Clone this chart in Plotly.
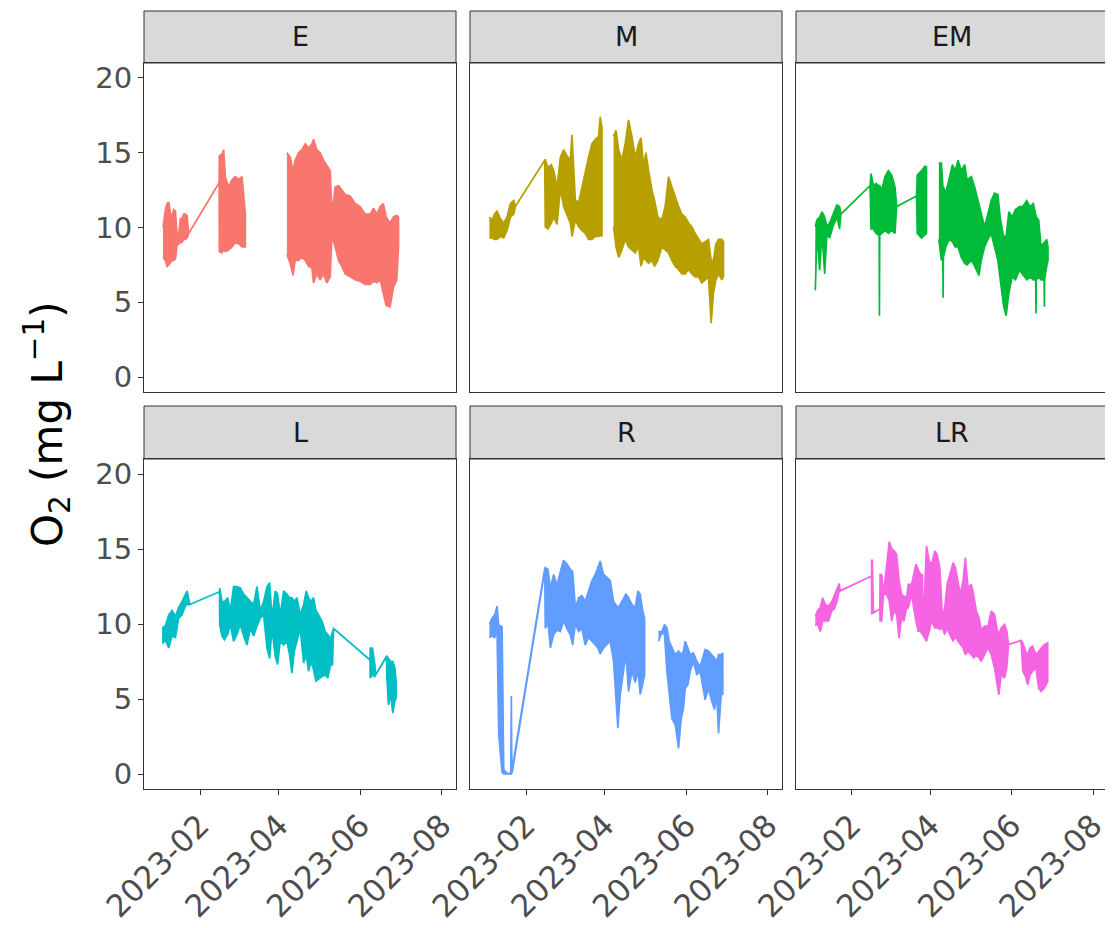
import datetime as dt
import plotly.graph_objects as go

# ---------------- data (days since 2023-01-01; None = break in record) ----------------
sites = ["E", "M", "EM", "L", "R", "LR"]
colors = ["#F8766D", "#B79F00", "#00BA38", "#00BFC4", "#619CFF", "#F564E3"]

E_day = [3.3, 5.1, 6.3, 7.6, 8.8, 10.1, 11.3, 12.6, 13.8, 15.1, 16.3, 17.5, 18.8, 20.0, 21.3, 22.5, 45.3,
         45.44, 47.4, 48.7, 49.9, 52.4, 54.9, 57.4, 59.9, 62.4, 64.9, None,
         96.0, 98.5, 100.5, 102.2, 104.7, 107.2, 109.7, 112.2, 114.7, 115.9, 118.4, 120.9, 123.4, 125.9, 128.4,
         129.6, 132.1, 134.6, 137.1, 139.6, 143.3, 147.1, 150.8, 154.5, 158.3, 160.8, 163.3, 165.8, 168.2, 170.2,
         173.2, 175.7, 178.2, 179.5]
E_hi = [10.0, 11.2, 11.6, 11.7, 11.0, 10.7, 11.2, 11.1, 9.6, 9.5, 10.6, 10.6, 10.9, 10.9, 10.8, 9.6, 13.0,
        14.8, 14.9, 15.2, 13.4, 12.7, 13.2, 13.4, 13.2, 13.4, 10.9, None,
        15.0, 14.7, 13.8, 14.5, 15.0, 15.2, 15.6, 15.3, 15.6, 15.9, 15.2, 15.0, 14.5, 14.1, 13.8,
        10.9, 12.7, 12.8, 12.5, 12.2, 12.1, 11.6, 11.4, 10.9, 10.9, 11.3, 10.9, 11.4, 11.6, 10.7,
        10.3, 10.7, 10.8, 10.7]
E_lo = [8.0, 7.8, 7.4, 7.5, 7.6, 7.8, 7.8, 7.9, 8.8, 8.9, 9.0, 9.0, 9.2, 9.2, 9.3, 9.6, 13.0,
        8.4, 8.3, 8.5, 8.4, 8.5, 8.7, 9.0, 8.9, 8.7, 8.7, None,
        8.2, 7.6, 6.8, 7.8, 7.8, 8.0, 7.8, 7.4, 7.3, 6.3, 6.9, 6.5, 6.9, 6.3, 6.7,
        9.5, 8.7, 7.8, 7.4, 6.9, 6.7, 6.5, 6.4, 6.2, 6.2, 6.4, 6.3, 6.5, 5.6, 4.8,
        4.7, 6.0, 6.5, 8.7]

M_day = [3.6, 5.6, 7.5, 9.3, 11.8, 14.3, 16.8, 19.3, 21.8, 23.0, 45.0,
         45.4, 47.4, 49.9, 51.7, 54.2, 56.7, 59.1, 61.6, 64.1, 65.4, 67.9, 70.4, 72.8, 75.3, 77.8, 80.3, 82.8,
         85.3, 86.5, 87.8, None,
         96.5, 98.3, 100.3, 102.7, 105.2, 107.7, 110.2, 112.7, 115.2, 117.0, 119.0, 120.7, 122.7, 125.2, 127.2,
         129.6, 132.6, 135.1, 137.6, 140.1, 142.6, 145.1, 147.6, 150.1, 152.6, 155.1, 157.5, 160.0, 162.5,
         165.0, 167.5, 169.5, 171.2, 173.0, 175.0, 177.5, 178.7]
M_hi = [10.7, 10.5, 10.9, 11.1, 10.6, 10.3, 10.7, 11.6, 11.8, 11.4, 14.5,
        14.55, 14.0, 14.2, 13.8, 12.7, 14.7, 15.2, 14.8, 14.5, 16.2, 11.8, 11.7, 12.7, 13.8, 14.7, 15.6, 15.9,
        16.1, 17.4, 16.7, None,
        16.1, 16.5, 15.2, 14.5, 15.6, 17.2, 16.1, 14.7, 15.6, 16.0, 14.1, 15.0, 13.8, 12.5, 11.8,
        10.7, 10.5, 11.4, 13.4, 12.7, 12.1, 11.4, 10.9, 10.7, 10.3, 10.05, 9.6, 9.2, 8.9,
        9.05, 9.2, 7.8, 7.8, 8.9, 9.2, 9.2, 9.05]
M_lo = [9.3, 9.3, 9.2, 9.2, 9.4, 9.3, 9.8, 10.7, 10.9, 11.4, 14.5,
        10.05, 9.9, 10.3, 10.7, 10.2, 12.6, 11.4, 10.9, 10.3, 9.4, 10.5, 10.05, 9.8, 9.6, 9.2, 9.2, 9.4,
        9.4, 9.5, 9.4, None,
        10.05, 8.7, 8.0, 8.5, 9.2, 8.7, 8.5, 8.3, 8.7, 7.4, 8.0, 7.8, 7.6, 7.8, 7.4,
        7.8, 8.7, 8.5, 8.3, 7.8, 7.4, 7.2, 6.9, 6.9, 7.2, 6.9, 6.7, 6.7, 6.3,
        6.5, 6.7, 3.6, 5.6, 6.5, 6.9, 6.5, 6.7]

EM_day = [3.6, 4.8, 6.8, 8.6, 10.6, 12.3, 14.3, 16.8, 19.8, 21.8, 22.8, 44.7,
          45.4, 47.2, 49.2, 50.9, 51.5, 51.7, 51.9, 53.4, 55.9, 58.4, 60.9, 63.4, 64.6, 79.6,
          80.1, 83.3, 85.8, 87.0, None,
          96.3, 98.2, 99.3, 99.5, 99.7, 101.5, 104.0, 106.5, 108.5, 110.7, 113.2, 115.7, 117.4, 120.7, 123.2,
          126.4, 128.1, 130.6, 133.1, 135.6, 138.1, 140.6, 142.3, 144.8, 146.8, 148.8, 151.3, 153.8, 156.8,
          159.3, 162.3, 164.7, 167.2, 169.0, 169.2, 169.4, 171.2, 173.0, 175.3, 175.5, 175.7, 177.2, 178.2]
EM_hi = [10.05, 10.5, 10.7, 11.05, 10.7, 10.05, 10.3, 10.9, 11.5, 11.4, 10.9, 12.8,
         13.6, 12.8, 12.95, 12.8, 12.8, 12.8, 12.8, 12.5, 13.4, 13.8, 13.5, 12.7, 11.4, 12.1,
         13.5, 13.8, 14.1, 14.06, None,
         14.3, 14.3, 12.7, 12.7, 12.7, 12.3, 13.2, 14.2, 13.8, 14.5, 13.8, 14.2, 13.2, 13.4, 12.7,
         11.6, 10.9, 10.05, 10.9, 11.8, 12.3, 12.2, 10.7, 9.4, 9.4, 11.05, 10.7, 11.2, 11.4,
         11.4, 11.8, 11.4, 11.6, 10.7, 10.7, 10.7, 10.5, 8.7, 9.0, 9.0, 9.0, 9.2, 8.7]
EM_lo = [5.8, 9.8, 7.15, 9.6, 6.9, 9.6, 9.3, 10.05, 10.7, 9.9, 10.9, 12.8,
         9.9, 9.9, 9.6, 9.5, 9.5, 4.1, 9.5, 9.6, 9.8, 9.6, 9.8, 9.6, 11.4, 12.1,
         9.6, 9.3, 9.5, 9.6, None,
         9.2, 7.8, 8.0, 5.3, 8.0, 8.7, 9.2, 9.05, 8.7, 8.7, 8.0, 7.6, 7.5, 7.8, 7.4,
         6.8, 7.8, 8.7, 9.2, 9.6, 8.7, 7.8, 6.5, 4.8, 4.1, 5.6, 6.7, 6.5, 7.15,
         6.9, 6.5, 6.7, 6.5, 6.5, 4.25, 6.5, 6.7, 6.5, 6.5, 4.7, 6.5, 7.4, 7.8]

L_day = [2.6, 5.1, 7.6, 10.1, 12.6, 15.0, 17.5, 20.0, 21.3, 23.3, 45.6,
         45.7, 47.4, 49.2, 51.7, 53.7, 56.1, 58.6, 61.1, 63.6, 66.1, 68.6, 71.1, 73.6, 76.1, 78.6, 81.1, 83.1,
         84.8, 87.3, 89.0, 91.0, 93.5, 96.0, 98.0, 99.7, 101.5, 103.5, 106.0, 108.5, 110.5, 112.2, 114.0,
         115.9, 117.7, 119.7, 122.2, 124.7, 126.6, 128.4, 130.1, 130.9, 158.2,
         158.3, 160.0, 161.8, 162.3, 170.5, 170.8, 172.0, 173.7, 175.2, 176.7, 177.7]
L_hi = [9.7, 9.9, 10.6, 10.9, 10.5, 11.1, 11.5, 12.0, 12.2, 11.3, 12.15,
        12.4, 11.5, 11.5, 11.75, 10.9, 12.5, 12.5, 12.4, 12.0, 11.75, 11.5, 11.3, 12.5, 10.9, 11.5, 12.5, 12.75,
        10.4, 12.2, 12.0, 10.6, 12.2, 12.0, 11.75, 11.75, 11.5, 11.75, 10.6, 11.3, 12.2, 11.75, 11.5,
        11.75, 10.9, 10.6, 10.2, 9.5, 9.3, 9.0, 9.6, 9.7, 7.6,
        8.4, 8.4, 7.3, 6.6, 7.85, 7.85, 7.7, 7.5, 7.5, 7.1, 6.2]
L_lo = [8.7, 8.9, 8.4, 9.2, 9.1, 10.4, 10.6, 11.2, 11.3, 11.3, 12.15,
        9.97, 9.2, 8.96, 9.3, 9.97, 8.85, 9.3, 9.97, 9.2, 8.6, 9.7, 9.2, 9.86, 10.4, 10.6, 8.4, 7.7,
        9.7, 7.85, 7.3, 8.85, 8.6, 8.85, 7.96, 6.73, 8.18, 8.85, 9.7, 7.4, 7.96, 6.85, 7.5,
        6.96, 6.2, 6.3, 6.5, 6.6, 6.4, 7.2, 7.3, 9.7, 7.6,
        6.4, 6.6, 6.5, 6.6, 7.85, 6.4, 4.6, 5.3, 4.06, 4.84, 5.06]

R_day = [3.6, 5.6, 7.6, 9.3, 10.6, 11.8, 13.1, 14.3, 16.8, 19.6, 20.0, 20.4, 21.0, 45.0,
         45.4, 47.4, 49.2, 51.7, 54.2, 56.7, 59.1, 61.6, 64.1, 65.9, 67.9, 70.4, 72.8, 75.3, 77.8, 80.3, 82.8,
         84.8, 86.5, 89.0, 91.5, 94.0, 96.5, 98.3, 99.7, 101.5, 104.0, 105.7, 107.7, 110.2, 112.7, 114.7,
         116.4, 118.2, 119.7, None,
         130.1, 132.6, 134.6, 136.4, 138.1, 140.1, 142.6, 145.1, 147.1, 148.8, 150.1, 152.1, 153.8, 156.3,
         158.8, 161.3, 165.0, 167.5, 170.0, 172.0, 173.7, 175.0, 177.0, 178.2]
R_hi = [9.97, 10.4, 10.6, 11.2, 9.9, 9.9, 9.8, 0.3, 0.05, 0.05, 5.2, 0.05, 0.3, 13.7,
        13.76, 13.65, 12.4, 13.3, 12.6, 13.5, 14.25, 14.0, 13.65, 13.5, 11.1, 11.75, 11.9, 11.5, 12.2, 12.9, 13.3,
        13.8, 14.2, 13.3, 13.1, 12.9, 11.5, 11.3, 11.1, 11.3, 11.75, 12.0, 11.75, 11.3, 11.1, 12.2,
        12.0, 10.9, 10.4, None,
        9.5, 9.5, 9.97, 9.74, 8.85, 8.4, 7.96, 8.2, 7.96, 8.2, 8.85, 8.4, 7.96, 8.07,
        7.5, 7.18, 8.3, 8.2, 7.96, 7.74, 7.5, 7.96, 7.96, 8.07]
R_lo = [9.1, 9.2, 9.1, 9.7, 2.6, 1.5, 0.1, 0.0, 0.0, 0.0, 0.0, 0.0, 0.3, 13.7,
        9.7, 10.1, 8.4, 9.3, 9.6, 9.5, 10.2, 9.7, 9.3, 8.6, 10.0, 9.5, 9.7, 8.6, 9.1, 8.85, 8.6,
        8.4, 8.0, 8.4, 8.6, 8.85, 7.5, 5.1, 3.05, 5.3, 6.85, 8.0, 5.5, 6.85, 6.1, 6.85,
        5.3, 5.95, 6.6, None,
        8.85, 9.4, 9.3, 6.85, 5.7, 3.7, 3.3, 1.7, 3.7, 4.4, 5.7, 5.95, 6.85, 7.5,
        6.6, 6.85, 4.95, 5.7, 4.84, 4.3, 5.3, 2.7, 5.3, 5.3]

LR_day = [3.6, 5.3, 7.3, 9.1, 11.1, 13.5, 16.0, 17.8, 19.8, 21.5, 22.3, 45.8,
          45.9, 46.4, 47.2, 52.0, 52.2, 53.4, 54.7, 57.1, 59.1, 60.9, 62.6, 64.6, 66.4, 68.3, 70.1, 72.1,
          73.3, 75.8, 79.1, 80.8, 82.5, 84.0, 84.3, 87.0, 89.0, 90.8, 93.3, 95.0, 97.0, 99.0, 100.7, 102.5,
          104.5, 107.0, 108.7, 110.7, 112.4, 114.4, 116.2, 118.2, 120.7, 122.4, 124.4, 126.4, 128.1, 130.6,
          133.1, 135.6, 138.1, 139.8, 141.3, 143.1, 145.6, 147.3, 148.6, 158.0,
          159.3, 161.3, 163.0, 164.8, 166.7, 169.2, 171.2, 173.0, 175.5, 178.0]
LR_hi = [10.5, 10.9, 11.1, 11.75, 11.3, 11.2, 11.5, 11.9, 12.4, 12.7, 12.2, 13.2,
         14.25, 14.25, 10.75, 11.0, 13.3, 13.3, 12.0, 13.98, 15.5, 15.0, 14.9, 14.65, 12.9, 11.97, 11.86, 11.75,
         12.64, 12.64, 13.98, 13.65, 13.3, 13.3, 9.3, 15.2, 14.2, 13.98, 14.87, 14.65, 13.76, 10.41, 11.08, 12.64,
         13.3, 14.09, 13.76, 12.87, 11.97, 12.87, 14.43, 12.42, 12.64, 11.97, 10.86, 10.41, 9.63, 9.86,
         9.86, 10.86, 10.64, 9.74, 9.3, 9.74, 9.97, 9.52, 8.63, 8.9,
         8.74, 8.18, 7.96, 8.41, 8.52, 7.96, 8.18, 8.41, 8.63, 8.74]
LR_lo = [9.9, 10.0, 9.5, 10.2, 10.2, 10.2, 10.9, 11.0, 11.5, 12.2, 12.2, 13.2,
         10.7, 10.7, 10.75, 11.0, 10.2, 10.2, 11.97, 11.97, 11.53, 10.19, 10.86, 10.64, 9.07, 10.41, 10.19, 11.08,
         11.08, 11.97, 10.19, 9.52, 9.52, 9.3, 9.3, 8.85, 9.52, 10.19, 9.74, 9.74, 9.63, 9.74, 9.3, 9.74,
         9.3, 8.85, 9.19, 8.85, 8.63, 8.41, 7.96, 8.18, 7.96, 7.74, 7.96, 7.74, 7.51, 7.96,
         8.41, 7.96, 7.07, 6.18, 5.28, 6.62, 6.4, 7.07, 8.63, 8.9,
         6.85, 6.51, 5.95, 6.62, 6.85, 7.07, 5.73, 5.51, 5.73, 6.18]

site_data = {
    "E": (E_day, E_hi, E_lo), "M": (M_day, M_hi, M_lo), "EM": (EM_day, EM_hi, EM_lo),
    "L": (L_day, L_hi, L_lo), "R": (R_day, R_hi, R_lo), "LR": (LR_day, LR_hi, LR_lo),
}

x_tickvals = ["2023-02-01", "2023-04-01", "2023-06-01", "2023-08-01"]
x_ticktext = ["2023-02", "2023-04", "2023-06", "2023-08"]
y_tickvals = [0, 5, 10, 15, 20]

# ---------------- figure ----------------
OFF = 8                      # page body margin
W, H = 1113 - OFF, 928 - OFF
BASE = dt.datetime(2023, 1, 1)
FONT = "DejaVu Sans"


def to_date(d):
    return BASE + dt.timedelta(days=d)


def segments(days, hi, lo):
    segs, cur = [], []
    for d, h, l in zip(days, hi, lo):
        if d is None:
            if cur:
                segs.append(cur)
            cur = []
        else:
            cur.append((d, h, l))
    if cur:
        segs.append(cur)
    return segs


def px(x):
    return (x - OFF) / W


def py(y):
    return 1 - (y - OFF) / H


col_px = [(144, 456), (470, 782), (796, 1107)]
row_px = [(63, 392), (459, 789)]
strip_px = [(11, 63), (406, 459)]

fig = go.Figure()
shapes, annotations = [], []

for i, site in enumerate(sites):
    r, c = divmod(i, 3)
    ax = "" if i == 0 else str(i + 1)
    days, hi, lo = site_data[site]
    for seg in segments(days, hi, lo):
        xs = [to_date(p[0]) for p in seg] + [to_date(p[0]) for p in reversed(seg)]
        ys = [p[1] for p in seg] + [p[2] for p in reversed(seg)]
        fig.add_trace(go.Scatter(
            x=xs, y=ys, mode="lines", fill="toself", fillcolor=colors[i],
            line=dict(color=colors[i], width=1.7), hoverinfo="skip", showlegend=False,
            xaxis="x" + ax, yaxis="y" + ax,
        ))

    x0, x1 = col_px[c]
    y0, y1 = row_px[r]
    bottom = r == 1
    left = c == 0
    fig.update_layout(**{
        "xaxis" + ax: dict(
            domain=[px(x0), px(x1)], anchor="y" + ax, type="date",
            range=["2022-12-21 02:00", "2023-08-11 12:00"],
            tickvals=x_tickvals, ticktext=x_ticktext, tickangle=-45,
            showticklabels=bottom, ticks="outside" if bottom else "",
            ticklen=5, tickwidth=1, tickcolor="#333333",
            tickfont=dict(family=FONT, size=31, color="#4D4D4D"),
            showgrid=False, zeroline=False, showline=True, mirror=True,
            linecolor="#333333", linewidth=1, automargin=False,
        ),
        "yaxis" + ax: dict(
            domain=[py(y1), py(y0)], anchor="x" + ax, range=[-1, 21],
            tickvals=y_tickvals, showticklabels=left, ticks="outside" if left else "",
            ticklen=5, tickwidth=1, tickcolor="#333333",
            tickfont=dict(family=FONT, size=29, color="#4D4D4D"),
            showgrid=False, zeroline=False, showline=True, mirror=True,
            linecolor="#333333", linewidth=1, automargin=False,
        ),
    })

    sy0, sy1 = strip_px[r]
    shapes.append(dict(type="rect", xref="paper", yref="paper",
                       x0=px(x0), x1=px(x1), y0=py(sy1), y1=py(sy0),
                       fillcolor="#D9D9D9", line=dict(color="#333333", width=1), layer="below"))
    annotations.append(dict(text=site, xref="paper", yref="paper",
                            x=px((x0 + x1) / 2), y=py((sy0 + sy1) / 2),
                            xanchor="center", yanchor="middle", showarrow=False,
                            font=dict(family=FONT, size=27, color="#1A1A1A")))

annotations.append(dict(text="O<sub>2</sub> (mg L<sup>\u22121</sup>)", xref="paper", yref="paper",
                        x=px(47), y=py(424), xanchor="center", yanchor="middle",
                        textangle=-90, showarrow=False,
                        font=dict(family=FONT, size=42, color="#000000")))

fig.update_layout(
    width=W, height=H, margin=dict(l=0, r=0, t=0, b=0),
    paper_bgcolor="white", plot_bgcolor="white",
    shapes=shapes, annotations=annotations, showlegend=False,
)

fig.write_html("out.html")
